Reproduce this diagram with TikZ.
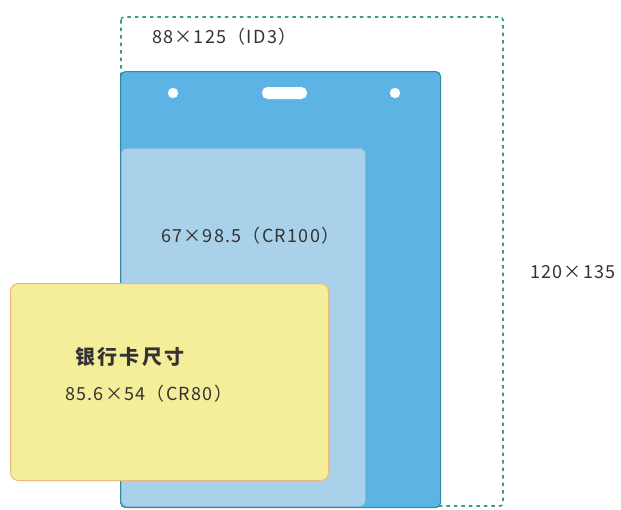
\documentclass[tikz,border=0pt]{standalone}
\usepackage{fontspec}
\setmainfont{Noto Sans CJK SC}
\definecolor{dashgreen}{HTML}{3C9A8C}
\definecolor{cardblue}{HTML}{5BB4E3}
\definecolor{cardedge}{HTML}{2E8C9E}
\definecolor{lightblue}{HTML}{A9D2EA}
\definecolor{lightedge}{HTML}{8FB8CC}
\definecolor{cardyellow}{HTML}{F4EE9A}
\definecolor{yellowedge}{HTML}{EDB97A}
\definecolor{txt}{HTML}{333333}
\tikzset{
  lbl/.style={anchor=base west, text=txt, inner sep=0pt,
    font=\fontsize{18}{20}\selectfont\addfontfeature{LetterSpace=7}},
  cjklbl/.style={anchor=base west, text=txt, inner sep=0pt,
    font=\fontsize{20}{22}\selectfont\bfseries\addfontfeature{LetterSpace=12}},
  hole/.style={fill=white, draw=none},
}
\begin{document}
\begin{tikzpicture}[x=1pt,y=-1pt]
\useasboundingbox (0,0) rectangle (621,509);
% dashed outline 120x135
\draw[dashgreen, line width=1.6pt, dash pattern=on 3.5pt off 4pt, rounded corners=3pt]
  (121,17) rectangle (503,506);
% blue ID3 card
\node (id3) [draw=cardedge, fill=cardblue, line width=1.2pt, rounded corners=5pt,
  minimum width=320pt, minimum height=436pt, inner sep=0pt, anchor=north west] at (120,71) {};
\fill[hole] (173,93) circle (5.2);
\fill[hole] (395,93) circle (5.2);
\fill[hole, rounded corners=5.5pt] (262,87) rectangle (307,99);
% light blue CR100
\node (cr100) [draw=lightedge, fill=lightblue, line width=0.6pt, rounded corners=6pt,
  minimum width=244pt, minimum height=358pt, inner sep=0pt, anchor=north west] at (121,148) {};
% yellow CR80
\node (cr80) [draw=yellowedge, fill=cardyellow, line width=1pt, rounded corners=8pt,
  minimum width=318pt, minimum height=197pt, inner sep=0pt, anchor=north west] at (10,283) {};
% labels
\node (t1) [lbl] at (152,43) {88×125（ID3）};
\node (t2) [lbl] at (161,242) {67×98.5（CR100）};
\node (t3) [lbl] at (530,278) {120×135};
\node (t4) [cjklbl] at (75,364) {银行卡尺寸};
\node (t5) [lbl] at (65,400) {85.6×54（CR80）};
\end{tikzpicture}
\end{document}
